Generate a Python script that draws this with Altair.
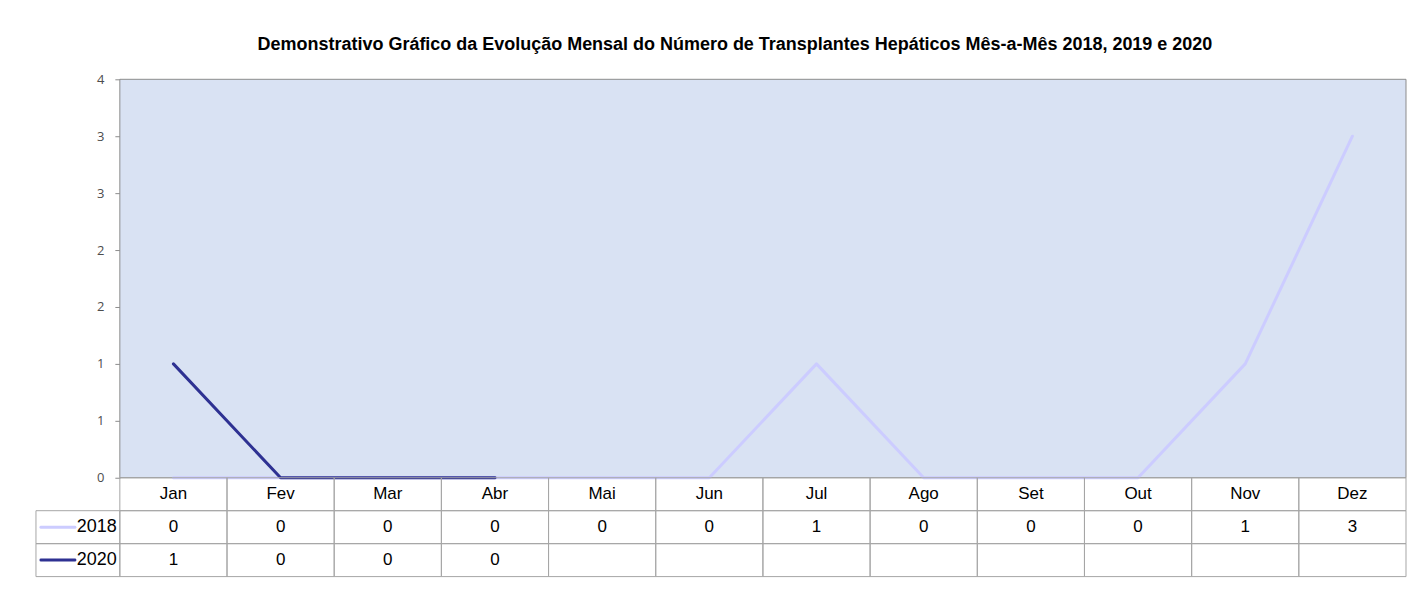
import altair as alt
import pandas as pd

# ---- data ----
months = ["Jan", "Fev", "Mar", "Abr", "Mai", "Jun", "Jul", "Ago", "Set", "Out", "Nov", "Dez"]
values_2018 = [0, 0, 0, 0, 0, 0, 1, 0, 0, 0, 1, 3]
values_2020 = [1, 0, 0, 0]  # only Jan-Abr available
series = ["2018", "2020"]
series_colors = ["#CCCCFF", "#2E3192"]
y_tick_values = [0, 0.5, 1, 1.5, 2, 2.5, 3, 3.5]
table_rows = ["Mês", "2018", "2020"]
title_text = "Demonstrativo Gráfico da Evolução Mensal do Número de Transplantes Hepáticos Mês-a-Mês 2018, 2019 e 2020"

FONT = "Liberation Sans, Arial, sans-serif"
PLOT_W = 1288
PLOT_H = 399
LEG_W = 84
TABLE_H = 99
GRID = "#A6A6A6"

# ---- long tables built from the arrays ----
line_records = []
for m, v in zip(months, values_2018):
    line_records.append({"month": m, "year": "2018", "value": v})
for m, v in zip(months, values_2020):
    line_records.append({"month": m, "year": "2020", "value": v})
line_df = pd.DataFrame(line_records)

cell_records = []
for i, m in enumerate(months):
    cell_records.append({"month": m, "row": "Mês", "text": m})
    cell_records.append({"month": m, "row": "2018", "text": str(values_2018[i])})
    cell_records.append({"month": m, "row": "2020",
                         "text": str(values_2020[i]) if i < len(values_2020) else ""})
cell_df = pd.DataFrame(cell_records)

legend_df = pd.DataFrame({"row": series, "year": series})

color_scale = alt.Scale(domain=series, range=series_colors)

# ---- top-left empty cell ----
empty = alt.Chart(pd.DataFrame({"a": [0]})).mark_point(opacity=0, size=1).encode(
    x=alt.value(LEG_W / 2), y=alt.value(PLOT_H / 2)
).properties(width=LEG_W, height=PLOT_H)

# ---- line chart ----
x_line = alt.X("month:O", sort=months,
               scale=alt.Scale(type="point", domain=months, padding=0.5), axis=None)
y_line = alt.Y("value:Q", scale=alt.Scale(domain=[0, 3.5], nice=False, zero=True),
               axis=alt.Axis(values=y_tick_values, labelExpr="format(round(datum.value), 'd')",
                             title=None, grid=False, domain=False, ticks=True, tickSize=5,
                             tickColor="#8C8C8C", labelColor="#4D4D4D", labelFontSize=13,
                             labelFont="Open Sans", labelPadding=11))

frame = alt.Chart(pd.DataFrame({"a": [0]})).mark_rect(
    fill="#D9E2F3", stroke="#8C8C8C", strokeWidth=1
).encode(x=alt.value(0), x2=alt.value("width"), y=alt.value(0), y2=alt.value("height"))

lines = alt.Chart(line_df).mark_line(strokeWidth=3, strokeCap="round", strokeJoin="round").encode(
    x=x_line, y=y_line,
    color=alt.Color("year:N", scale=color_scale, legend=None),
)

line_chart = alt.layer(frame, lines).properties(width=PLOT_W, height=PLOT_H)

# ---- legend column of the data table ----
y_tab = alt.Y("row:O", scale=alt.Scale(domain=table_rows, paddingInner=0, paddingOuter=0), axis=None)

leg_box = alt.Chart(legend_df).mark_rect(fill="white", fillOpacity=0, stroke=GRID, strokeWidth=1).encode(
    x=alt.value(0), x2=alt.value("width"), y=y_tab
)
leg_swatch = alt.Chart(legend_df).mark_rule(strokeWidth=3, strokeCap="round").encode(
    x=alt.value(5), x2=alt.value(39), y=y_tab,
    color=alt.Color("year:N", scale=color_scale, legend=None),
)
leg_text = alt.Chart(legend_df).mark_text(align="right", baseline="middle", fontSize=18,
                                          font=FONT, color="black").encode(
    x=alt.value(81), y=y_tab, text="year:N"
)
legend_chart = alt.layer(leg_box, leg_swatch, leg_text).properties(width=LEG_W, height=TABLE_H)

# ---- data table ----
x_tab = alt.X("month:O", sort=months,
              scale=alt.Scale(domain=months, paddingInner=0, paddingOuter=0), axis=None)
cells = alt.Chart(cell_df).mark_rect(fill="white", fillOpacity=0, stroke=GRID, strokeWidth=1).encode(
    x=x_tab, y=y_tab
)
cell_text = alt.Chart(cell_df).mark_text(baseline="middle", fontSize=17, font=FONT,
                                         color="black").encode(
    x=x_tab, y=y_tab, text="text:N"
)
table_chart = alt.layer(cells, cell_text).properties(width=PLOT_W, height=TABLE_H)

chart = alt.concat(
    empty, line_chart, legend_chart, table_chart, columns=2, spacing=0, bounds="flush"
).properties(
    title=alt.TitleParams(title_text, fontSize=18, font=FONT, fontWeight="bold",
                          color="black", anchor="middle", offset=19, dx=14),
    padding={"left": 27, "top": 28, "right": 1, "bottom": 2},
).configure_view(stroke=None)

chart.save("out.html", embed_options={"renderer": "svg", "actions": False})
